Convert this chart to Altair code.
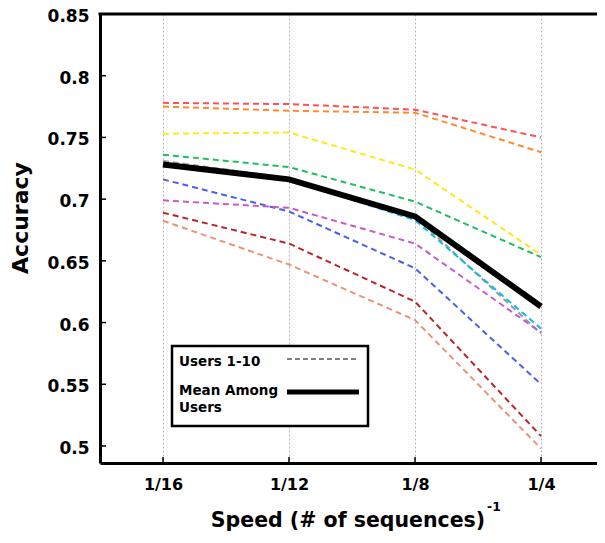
import altair as alt
import pandas as pd

speeds = ["1/16", "1/12", "1/8", "1/4"]

user_names = ["User 10", "User 1", "User 2", "User 3", "User 4", "User 5",
              "User 6", "User 7", "User 8", "User 9"]
user_colors = ["#9a9a9a", "#ff4f5a", "#ff8a2a", "#ffe81a", "#1fbf5f", "#4b5fe6",
               "#c85ac8", "#12b9f0", "#b8242c", "#e89478"]

u10 = [0.731, 0.717, 0.686, 0.591]
u1 = [0.778, 0.777, 0.7725, 0.750]
u2 = [0.775, 0.7716, 0.770, 0.738]
u3 = [0.753, 0.754, 0.724, 0.655]
u4 = [0.736, 0.726, 0.698, 0.653]
u5 = [0.716, 0.690, 0.644, 0.550]
u6 = [0.699, 0.693, 0.664, 0.592]
u7 = [0.727, 0.716, 0.683, 0.595]
u8 = [0.689, 0.664, 0.617, 0.508]
u9 = [0.6825, 0.647, 0.602, 0.498]
mean_vals = [0.728, 0.716, 0.686, 0.613]

y_ticks = [0.5, 0.55, 0.6, 0.65, 0.7, 0.75, 0.8, 0.85]

series = [u10, u1, u2, u3, u4, u5, u6, u7, u8, u9]
rows = []
for name, vals in zip(user_names, series):
    for s, v in zip(speeds, vals):
        rows.append({"user": name, "speed": s, "accuracy": v})
users_df = pd.DataFrame(rows)
mean_df = pd.DataFrame({"speed": speeds, "accuracy": mean_vals})
ytick_df = pd.DataFrame({"accuracy": y_ticks})
xtick_df = pd.DataFrame({"speed": speeds})

W = 497          # visible plot width (page is clipped on the right as in the reference)
XR = 504         # full x range of the plot frame
H = 449
FONT = "DejaVu Sans"

x_enc = alt.X("speed:N", sort=speeds,
              scale=alt.Scale(type="point", padding=0.5, range=[0, XR]),
              axis=alt.Axis(title=None, labelFont=FONT, labelFontWeight="bold",
                            labelFontSize=16, labelColor="black", labelPadding=13,
                            ticks=False, domain=True, domainColor="black",
                            domainWidth=3, grid=True, gridDash=[2, 2],
                            gridColor="#b5b5b5", gridWidth=1, labelAngle=0))
y_enc = alt.Y("accuracy:Q",
              scale=alt.Scale(domain=[0.4862, 0.85], nice=False, zero=False),
              axis=alt.Axis(title=None, values=y_ticks, format=".2~f",
                            labelFont=FONT, labelFontWeight="bold",
                            labelFontSize=17, labelColor="black", labelPadding=11,
                            labelOffset=2.5,
                            ticks=False, domain=True, domainColor="black",
                            domainWidth=3, grid=False))

users = alt.Chart(users_df).mark_line(strokeDash=[6, 4], strokeWidth=2).encode(
    x=x_enc, y=y_enc,
    color=alt.Color("user:N", scale=alt.Scale(domain=user_names, range=user_colors),
                    legend=None),
)

mean = alt.Chart(mean_df).mark_line(color="black", strokeWidth=6).encode(x=x_enc, y=y_enc)

left_ticks = alt.Chart(ytick_df).mark_rule(color="black", strokeWidth=1.5).encode(
    y="accuracy:Q", x=alt.value(0), x2=alt.value(6))
bottom_ticks = alt.Chart(xtick_df).mark_rule(color="black", strokeWidth=1.5).encode(
    x=alt.X("speed:N", sort=speeds), y=alt.value(H - 6), y2=alt.value(H))

one = pd.DataFrame([{"k": 1}])
top_border = alt.Chart(one).mark_rule(color="black", strokeWidth=3).encode(
    x=alt.value(-1.5), x2=alt.value(XR + 10), y=alt.value(0))

legend_box = alt.Chart(one).mark_rect(fill="white", stroke="black", strokeWidth=2.5).encode(
    x=alt.value(72), x2=alt.value(268), y=alt.value(332), y2=alt.value(412))
leg_dash = alt.Chart(one).mark_rule(color="#555555", strokeWidth=1.3, strokeDash=[5, 3]).encode(
    x=alt.value(187), x2=alt.value(259), y=alt.value(345))
leg_solid = alt.Chart(one).mark_rule(color="black", strokeWidth=5).encode(
    x=alt.value(187), x2=alt.value(259), y=alt.value(378))

def txt(s, x, y, size, align="left", angle=0):
    kw = dict(text=s, font=FONT, fontWeight="bold", fontSize=size, color="black",
              align=align, baseline="middle")
    if angle:
        kw["angle"] = angle
    return alt.Chart(one).mark_text(**kw).encode(x=alt.value(x), y=alt.value(y))

leg_t1 = txt("Users 1-10", 79, 348, 13.5)
leg_t2 = txt("Mean Among", 79, 377, 13.5)
leg_t3 = txt("Users", 79, 394, 13.5)

x_title = txt("Speed (# of sequences)", 248, 507, 20.5, align="center")
x_sup = txt("-1", 394, 493, 12.5, align="center")
y_title = txt("Accuracy", -79, 204, 22, align="center", angle=270)

chart = alt.layer(
    users, mean, left_ticks, bottom_ticks, top_border,
    legend_box, leg_dash, leg_solid, leg_t1, leg_t2, leg_t3,
    x_title, x_sup, y_title,
).properties(
    width=W, height=H,
    autosize=alt.AutoSizeParams(type="none"),
    padding={"left": 92, "top": 6, "right": 0, "bottom": 72},
    background="white",
).configure_view(stroke=None)

chart.save("out.html", embed_options={"renderer": "svg", "actions": False})
